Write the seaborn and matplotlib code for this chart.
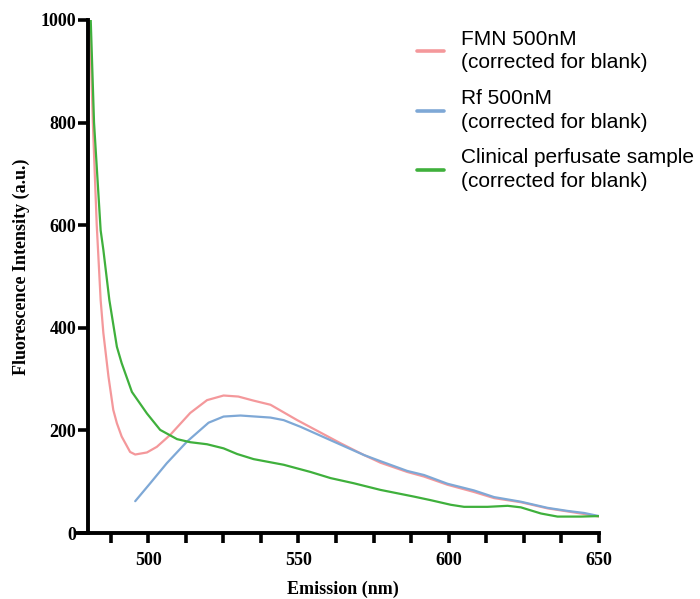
import pandas as pd
import seaborn as sns
import matplotlib.pyplot as plt
from matplotlib.ticker import FixedLocator, NullFormatter

# Emission spectra (x in nm, y in a.u.)
fmn_x = [480.6, 481.6, 482.9, 484.2, 485.1, 486.8, 488.4, 489.6, 491.2, 494, 495.7,
         499.6, 502.9, 507.3, 514, 519.6, 525.1, 530, 535.1, 540.7, 549.6, 564,
         571.8, 577.3, 586.2, 591.8, 599.6, 608.4, 615.1, 624, 632.9, 639.6, 645.1, 650]
fmn_y = [1000, 800, 600, 454, 390, 305, 240, 214, 188, 158, 153,
         157, 168, 191, 234, 259, 268, 266, 258, 250, 220, 175,
         152, 137, 119, 110, 94, 80, 68, 60, 48, 42, 37, 32]

rf_x = [495.7, 500.7, 506.2, 512.9, 520.1, 525.1, 530.7, 540.7, 545.1, 550.7, 561.8,
        571.8, 577.3, 586.2, 591.8, 599.6, 608.4, 615.1, 624, 632.9, 639.6, 645.1, 650]
rf_y = [62, 97, 136, 178, 215, 227, 229, 225, 220, 207, 178,
        152, 140, 121, 113, 96, 83, 70, 61, 49, 43, 39, 33]

clin_x = [480.9, 482.0, 484.2, 485.1, 487.1, 489.6, 491.2, 494.6, 499.6, 504, 509.6,
          514, 519.6, 525.1, 529.6, 535.1, 545.1, 554, 560.7, 568.4, 577.3, 588.4,
          594, 600.7, 605.1, 612.9, 619.6, 624, 630.7, 636.2, 644, 650]
clin_y = [1000, 800, 590, 552, 454, 363, 331, 275, 233, 201, 183,
          177, 173, 165, 154, 144, 133, 119, 107, 97, 84, 71,
          64, 55, 51, 51, 53, 50, 38, 32, 32, 33]

labels = ["FMN 500nM\n(corrected for blank)",
          "Rf 500nM\n(corrected for blank)",
          "Clinical perfusate sample\n(corrected for blank)"]
colors = ["#f4989b", "#7ea8d6", "#3fb03c"]

df = pd.concat([
    pd.DataFrame({"x": fmn_x, "y": fmn_y, "series": labels[0]}),
    pd.DataFrame({"x": rf_x, "y": rf_y, "series": labels[1]}),
    pd.DataFrame({"x": clin_x, "y": clin_y, "series": labels[2]}),
])

sns.set_style("ticks")
plt.rcParams["font.family"] = ["Liberation Serif", "DejaVu Serif"]
plt.rcParams["text.color"] = "black"
plt.rcParams["axes.edgecolor"] = "black"
plt.rcParams["xtick.color"] = "black"
plt.rcParams["ytick.color"] = "black"
plt.rcParams["axes.labelcolor"] = "black"

fig = plt.figure(figsize=(7, 5.99), dpi=100)
ax = fig.add_axes([76 / 700, 66 / 599, 523 / 700, 513 / 599])

sns.lineplot(data=df, x="x", y="y", hue="series", palette=colors,
             sort=False, linewidth=1.6, ax=ax)

ax.set_xlim(476, 650)
ax.set_ylim(0, 1000)
ax.spines["left"].set_position(("data", 480))
ax.spines[["top", "right"]].set_visible(False)
for s in ["left", "bottom"]:
    ax.spines[s].set_linewidth(2.8)

ax.xaxis.set_major_locator(FixedLocator([500, 550, 600, 650]))
ax.xaxis.set_minor_locator(FixedLocator([487.5, 512.5, 525, 537.5, 562.5, 575,
                                         587.5, 612.5, 625, 637.5]))
ax.xaxis.set_minor_formatter(NullFormatter())
ax.set_yticks([0, 200, 400, 600, 800, 1000])
ax.tick_params(axis="x", which="both", length=7.5, width=2.6, pad=6,
               labelsize=13)
ax.tick_params(axis="y", length=7.5, width=2.6, pad=1, labelsize=13)
for t in ax.get_xticklabels() + ax.get_yticklabels():
    t.set_fontweight("bold")

ax.set_xlabel("Emission (nm)", fontsize=13, fontweight="bold")
ax.xaxis.set_label_coords(0.51, -0.092)
ax.set_ylabel("Fluorescence Intensity (a.u.)", fontsize=13, fontweight="bold")
ax.yaxis.set_label_coords(-0.088, 0.518)

handles, _ = ax.get_legend_handles_labels()
leg = ax.legend(handles, labels, loc="upper left",
                bbox_to_anchor=(417 / 700, 1 - 30 / 599),
                bbox_transform=fig.transFigure, frameon=False,
                prop={"family": "Liberation Sans", "size": 15},
                handlelength=1.3, handletextpad=0.8, labelspacing=0.8,
                borderaxespad=0, borderpad=0)
for t in leg.get_texts():
    t.set_linespacing(1.3)
for line in leg.get_lines():
    line.set_linewidth(2.6)

plt.savefig("out.png", dpi=100)
